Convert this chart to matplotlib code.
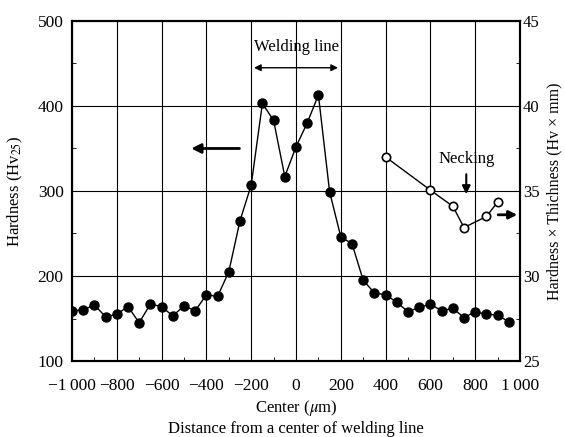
import matplotlib.pyplot as plt
from matplotlib.ticker import MultipleLocator

# hardness along the weld (filled circles, left axis)
dist = [-1000, -950, -900, -850, -800, -750, -700, -650, -600, -550, -500, -450,
        -400, -350, -300, -250, -200, -150, -100, -50, 0, 50, 100, 150,
        200, 250, 300, 350, 400, 450, 500, 550, 600, 650, 700, 750, 800, 850, 900, 950]
hardness = [159, 160, 166, 152, 155, 164, 145, 167, 164, 153, 165, 159,
            178, 176, 205, 265, 307, 403, 383, 317, 352, 380, 413, 299,
            246, 238, 195, 180, 178, 169, 158, 163, 167, 159, 162, 151, 158, 155, 154, 146]

# hardness x thickness (open circles, right axis)
dist_ht = [400, 600, 700, 750, 850, 900]
hard_thick = [37.0, 35.05, 34.1, 32.85, 33.5, 34.35]

xticks = [-1000, -800, -600, -400, -200, 0, 200, 400, 600, 800, 1000]
xticklabels = ['\u22121\u2009000', '\u2212800', '\u2212600', '\u2212400', '\u2212200',
               '0', '200', '400', '600', '800', '1\u2009000']

plt.rcParams['font.family'] = ['Liberation Serif', 'DejaVu Serif']
plt.rcParams['mathtext.fontset'] = 'stix'

fig = plt.figure(figsize=(5.65, 4.37), dpi=100)
ax = fig.add_axes([0.1274, 0.1739, 0.7930, 0.7781])
ax2 = ax.twinx()

ax.set_xlim(-1000, 1000)
ax.set_ylim(100, 500)
ax2.set_ylim(25, 45)

ax.grid(True, color='black', linewidth=0.8)
ax.set_axisbelow(True)
ax.set_xticks(xticks)
ax.set_xticklabels(xticklabels, fontsize=12.5)
ax.xaxis.set_minor_locator(MultipleLocator(100))
ax.set_yticks([100, 200, 300, 400, 500])
ax.yaxis.set_minor_locator(MultipleLocator(50))
ax.tick_params(axis='both', which='both', direction='in', labelsize=12.5)
ax.tick_params(which='major', length=0, pad=6)
ax.tick_params(axis='x', which='major', pad=12)
ax.tick_params(which='minor', length=3)

ax2.set_yticks([25, 30, 35, 40, 45])
ax2.yaxis.set_minor_locator(MultipleLocator(2.5))
ax2.tick_params(which='both', direction='in', labelsize=12)
ax2.tick_params(which='major', length=0, pad=2)
ax2.tick_params(which='minor', length=3)

for a in (ax, ax2):
    for s in a.spines.values():
        s.set_linewidth(1.5)

ax.plot(dist, hardness, color='black', linewidth=1.0, marker='o', markersize=6.5,
        markerfacecolor='black', zorder=3)
ax2.plot(dist_ht, hard_thick, color='black', linewidth=1.0, marker='o', markersize=6,
         markerfacecolor='white', markeredgewidth=1.2, zorder=3)

ax.set_ylabel('Hardness (Hv$_{25}$)', fontsize=12)
ax.yaxis.set_label_coords(-0.105, 0.5)
ax2.set_ylabel('Hardness \u00d7 Thichness (Hv \u00d7 mm)', fontsize=11.5)
ax2.yaxis.set_label_coords(1.058, 0.5)
ax.set_xlabel('Center ($\\mu$m)\nDistance from a center of welding line', fontsize=12,
              labelpad=3, linespacing=1.3)

# annotations
ax.annotate('', xy=(-480, 350), xytext=(-240, 350),
            arrowprops=dict(arrowstyle='-|>', color='black', lw=2, mutation_scale=14))
ax.annotate('', xy=(-200, 445), xytext=(200, 445),
            arrowprops=dict(arrowstyle='<|-|>', color='black', lw=1, mutation_scale=10))
ax.text(0, 460, 'Welding line', ha='center', va='bottom', fontsize=12)
ax.text(760, 328, 'Necking', ha='center', va='bottom', fontsize=12)
ax.annotate('', xy=(760, 293), xytext=(760, 323),
            arrowprops=dict(arrowstyle='-|>', color='black', lw=1.5, mutation_scale=12))
ax.annotate('', xy=(1000, 272), xytext=(890, 272),
            arrowprops=dict(arrowstyle='-|>', color='black', lw=2, mutation_scale=12))

fig.savefig('out.png', dpi=100)
